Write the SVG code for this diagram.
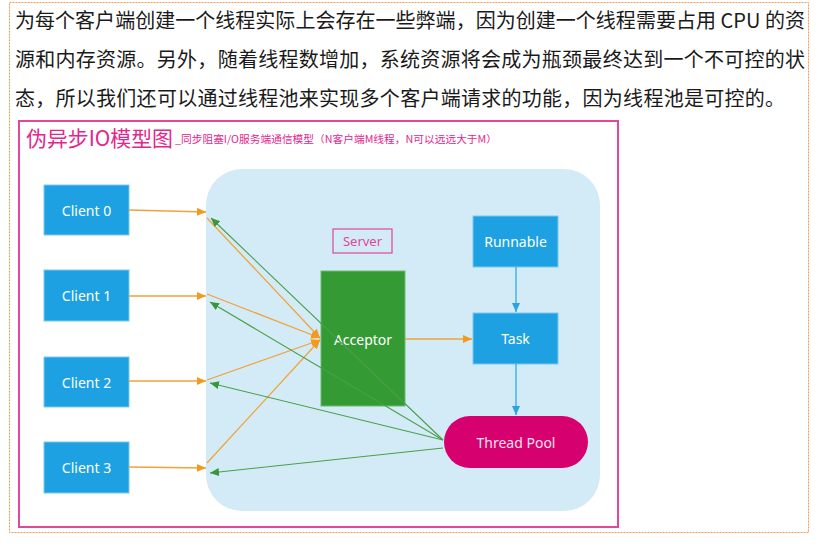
<svg xmlns="http://www.w3.org/2000/svg" width="822" height="550" viewBox="0 0 822 550">
<style>
.para{font-family:"Noto Sans CJK SC","Noto Sans",sans-serif;font-size:20px;fill:#1a1a1a}
.lbl{font-family:"Noto Sans","Open Sans",sans-serif;font-size:14px;fill:#ffffff;text-anchor:middle;dominant-baseline:central}
.client{fill:#1da1e2;stroke:#7cc8ef;stroke-width:1}
.org{stroke:#f2a23a;stroke-width:1.3;fill:none}
.grn{stroke:#4a9f4a;stroke-width:1.1;fill:none}
.blu{stroke:#2aa3e0;stroke-width:1.2;fill:none}
</style>
<defs>
<marker id="ao" markerUnits="userSpaceOnUse" markerWidth="10" markerHeight="10" refX="9" refY="5" orient="auto"><path d="M0,1 L9,5 L0,9 Z" fill="#f39a1e"/></marker>
<marker id="ag" markerUnits="userSpaceOnUse" markerWidth="10" markerHeight="10" refX="9" refY="5" orient="auto"><path d="M0,1 L9,5 L0,9 Z" fill="#3a963a"/></marker>
<marker id="ab" markerUnits="userSpaceOnUse" markerWidth="10" markerHeight="10" refX="9" refY="5" orient="auto"><path d="M0,1 L9,5 L0,9 Z" fill="#2aa3e0"/></marker>
</defs>
<rect width="822" height="550" fill="#ffffff"/>
<rect x="9.5" y="2.5" width="799" height="530" fill="none" stroke="#f39a55" stroke-width="1" stroke-dasharray="2 1"/>
<text class="para" x="15" y="28" textLength="790" lengthAdjust="spacing">为每个客户端创建一个线程实际上会存在一些弊端，因为创建一个线程需要占用 CPU 的资</text>
<text class="para" x="15" y="67" textLength="790" lengthAdjust="spacing">源和内存资源。另外，随着线程数增加，系统资源将会成为瓶颈最终达到一个不可控的状</text>
<text class="para" x="15" y="106" textLength="770" lengthAdjust="spacing">态，所以我们还可以通过线程池来实现多个客户端请求的功能，因为线程池是可控的。</text>
<rect x="19" y="121" width="599" height="406" fill="none" stroke="#e0489a" stroke-width="2"/>
<text x="26" y="146" font-family="Noto Sans CJK SC,Noto Sans,sans-serif" font-size="21" fill="#e2268e" textLength="147" lengthAdjust="spacingAndGlyphs">伪异步IO模型图</text>
<text x="175" y="143" font-family="Noto Sans CJK SC,Noto Sans,sans-serif" font-size="10" fill="#e2268e" textLength="322" lengthAdjust="spacingAndGlyphs">_同步阻塞I/O服务端通信模型（N客户端M线程，N可以远远大于M）</text>
<rect id="server-bg" x="206" y="169" width="394" height="342" rx="36" ry="36" fill="#d3ebf7"/>
<g id="server-label"><rect x="333" y="229" width="59" height="24" fill="none" stroke="#e0489a" stroke-width="1.2"/><text x="362.5" y="241" font-family="Noto Sans,sans-serif" font-size="13" fill="#e0489a" text-anchor="middle" dominant-baseline="central">Server</text></g>
<g id="client0"><rect class="client" x="44" y="185" width="85" height="50"/><text class="lbl" x="86.5" y="210">Client 0</text></g>
<g id="client1"><rect class="client" x="44" y="270" width="85" height="51"/><text class="lbl" x="86.5" y="295.5">Client 1</text></g>
<g id="client2"><rect class="client" x="44" y="357" width="85" height="50"/><text class="lbl" x="86.5" y="382">Client 2</text></g>
<g id="client3"><rect class="client" x="44" y="442" width="85" height="51"/><text class="lbl" x="86.5" y="467.5">Client 3</text></g>
<g id="acceptor"><rect x="321" y="271" width="84" height="135" fill="#349b34" stroke="#6cbb6c" stroke-width="1"/><text class="lbl" x="363" y="339">Acceptor</text></g>
<g id="runnable"><rect class="client" x="473" y="216" width="85" height="51"/><text class="lbl" x="515.5" y="241.5">Runnable</text></g>
<g id="task"><rect class="client" x="473" y="313" width="85" height="51"/><text class="lbl" x="515.5" y="338.5">Task</text></g>
<g id="threadpool"><rect x="444" y="416" width="144" height="52" rx="26" ry="26" fill="#d6006e"/><text class="lbl" x="516" y="442" fill="#fde3ef" style="fill:#fbe0ee">Thread Pool</text></g>
<g id="connectors">
<line class="org" x1="129" y1="210" x2="206" y2="212" marker-end="url(#ao)"/>
<line class="org" x1="129" y1="296" x2="206" y2="296" marker-end="url(#ao)"/>
<line class="org" x1="129" y1="381" x2="206" y2="381" marker-end="url(#ao)"/>
<line class="org" x1="129" y1="467" x2="206" y2="468" marker-end="url(#ao)"/>
<line class="org" x1="207" y1="218" x2="320" y2="338" marker-end="url(#ao)"/>
<line class="org" x1="207" y1="294" x2="320" y2="338" marker-end="url(#ao)"/>
<line class="org" x1="207" y1="380" x2="320" y2="340" marker-end="url(#ao)"/>
<line class="org" x1="207" y1="463" x2="320" y2="340" marker-end="url(#ao)"/>
<line class="org" x1="405" y1="339" x2="472" y2="339" marker-end="url(#ao)"/>
<line class="blu" x1="516" y1="267" x2="516" y2="312" marker-end="url(#ab)"/>
<line class="blu" x1="516" y1="364" x2="516" y2="415" marker-end="url(#ab)"/>
<line class="grn" x1="443" y1="440" x2="211" y2="218" marker-end="url(#ag)"/>
<line class="grn" x1="443" y1="440" x2="210" y2="302" marker-end="url(#ag)"/>
<line class="grn" x1="443" y1="440" x2="210" y2="383" marker-end="url(#ag)"/>
<line class="grn" x1="443" y1="448" x2="210" y2="473" marker-end="url(#ag)"/>
</g>
</svg>
